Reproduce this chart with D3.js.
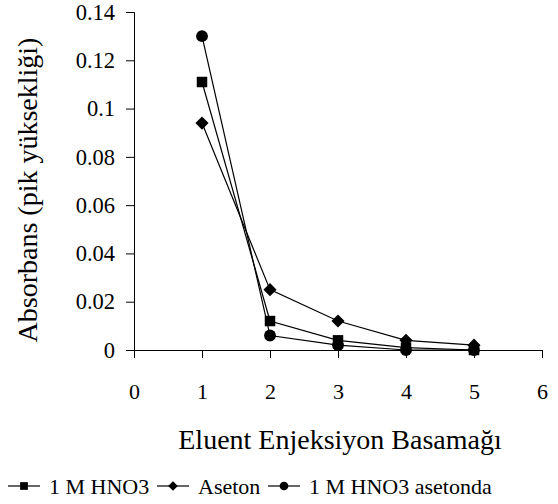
<!DOCTYPE html>
<html>
<head>
<meta charset="utf-8">
<script src="https://cdn.jsdelivr.net/npm/d3@7"></script>
<style>
  body { margin: 0; background: #fff; }
</style>
</head>
<body>
<div id="chart"></div>
<script>
const width = 558;
const height = 504;
const font = '"Liberation Serif", "Times New Roman", serif';

// data
const steps = [1, 2, 3, 4, 5];
const hno3 = [0.111, 0.012, 0.004, 0.001, 0.0];
const aseton = [0.094, 0.025, 0.012, 0.004, 0.002];
const hno3Aseton = [0.130, 0.006, 0.002, 0.0, 0.0];
const seriesNames = ["1 M HNO3", "Aseton", "1 M HNO3 asetonda"];
const xTicks = [0, 1, 2, 3, 4, 5, 6];
const yTicks = [0, 0.02, 0.04, 0.06, 0.08, 0.1, 0.12, 0.14];

const margin = {top: 12, right: 16, bottom: 154, left: 134};

const svg = d3.select("#chart")
  .append("svg")
  .attr("width", width)
  .attr("height", height)
  .style("font-family", font);

const x = d3.scaleLinear()
  .domain([0, 6])
  .range([margin.left, width - margin.right]);

const y = d3.scaleLinear()
  .domain([0, 0.14])
  .range([height - margin.bottom, margin.top]);

const series = [
  {name: seriesNames[0], values: hno3, symbol: d3.symbolSquare, size: 110},
  {name: seriesNames[1], values: aseton, symbol: d3.symbolDiamond2, size: 110},
  {name: seriesNames[2], values: hno3Aseton, symbol: d3.symbolCircle, size: 110}
];

///////////// axes /////////////
svg.append("g")
  .attr("transform", `translate(0,${y(0)})`)
  .call(d3.axisBottom(x).tickValues(xTicks).tickSize(8).tickPadding(25).tickFormat(d3.format("d")))
  .call(g => g.select(".domain").attr("stroke", "#000"))
  .call(g => g.selectAll(".tick line").attr("stroke", "#000"))
  .call(g => g.selectAll("text").style("font-size", "22px").style("font-family", font));

svg.append("g")
  .attr("transform", `translate(${x(0)},0)`)
  .call(d3.axisLeft(y).tickValues(yTicks).tickSize(8).tickPadding(11)
    .tickFormat(d => d === 0 ? "0" : String(+d.toFixed(2))))
  .call(g => g.select(".domain").attr("stroke", "#000"))
  .call(g => g.selectAll(".tick line").attr("stroke", "#000"))
  .call(g => g.selectAll("text").style("font-size", "22.5px").style("font-family", font));

svg.append("text")
  .attr("x", 340)
  .attr("y", 449)
  .attr("text-anchor", "middle")
  .style("font-size", "28px")
  .text("Eluent Enjeksiyon Basamağı");

svg.append("text")
  .attr("transform", `translate(37,190) rotate(-90)`)
  .attr("text-anchor", "middle")
  .style("font-size", "28px")
  .text("Absorbans (pik yüksekliği)");

///////////// lines + markers /////////////
const line = d3.line()
  .x((d, i) => x(steps[i]))
  .y(d => y(d));

series.forEach(s => {
  svg.append("path")
    .attr("d", line(s.values))
    .attr("fill", "none")
    .attr("stroke", "#000")
    .attr("stroke-width", 1.2);

  svg.selectAll(null)
    .data(s.values)
    .join("path")
      .attr("transform", (d, i) => `translate(${x(steps[i])},${y(d)})`)
      .attr("d", d3.symbol().type(s.symbol).size(s.size))
      .attr("fill", "#000");
});

///////////// legend /////////////
const legendPos = [8, 157, 268];
const legend = svg.selectAll(".legend")
  .data(series)
  .join("g")
    .attr("class", "legend")
    .attr("transform", (d, i) => `translate(${legendPos[i]},486)`);

legend.append("line")
  .attr("x1", 0).attr("x2", 32)
  .attr("stroke", "#000").attr("stroke-width", 1.2);

legend.append("path")
  .attr("transform", "translate(16,0)")
  .attr("d", d => d3.symbol().type(d.symbol).size(60)())
  .attr("fill", "#000");

legend.append("text")
  .attr("x", 41)
  .attr("y", 8)
  .style("font-size", "22px")
  .text(d => d.name);
</script>
</body>
</html>
